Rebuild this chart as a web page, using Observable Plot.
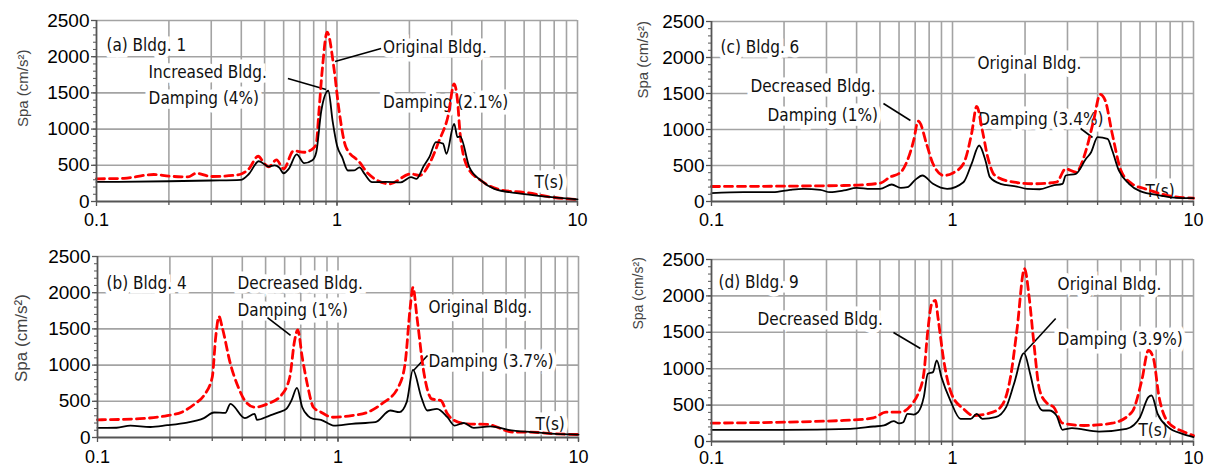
<!DOCTYPE html>
<html><head><meta charset="utf-8">
<script src="https://cdn.jsdelivr.net/npm/d3@7"></script>
<script src="https://cdn.jsdelivr.net/npm/@observablehq/plot@0.6"></script>
<style>
html,body{margin:0;padding:0;background:#fff}
#wrap{position:relative;width:1211px;height:468px;overflow:hidden;background:#fff}
.panel{position:absolute}
.panel svg{overflow:visible}
</style></head><body>
<div id="wrap">
<div id="pa" class="panel" style="left:0;top:0"></div>
<div id="pb" class="panel" style="left:0;top:234px"></div>
<div id="pc" class="panel" style="left:600px;top:0"></div>
<div id="pd" class="panel" style="left:600px;top:234px"></div>
</div>
<script>
// ---- tick values ----
const xTickLabels = [0.1, 1, 10];
const xGridValues = [0.2,0.3,0.4,0.5,0.6,0.7,0.8,0.9,1,2,3,4,5,6,7,8,9,10];
const yTickLabels = [0, 500, 1000, 1500, 2000, 2500];
const yGridValues = [500, 1000, 1500, 2000, 2500];
const yMinorTicks = d3.range(0, 2501, 100);
const yAxisTitle = "Spa (cm/s²)";

// ---- (a) Bldg. 1 : [T (s), Spa (cm/s²)] ----
const bldg1Solid = [[0.1,270],[0.2,280],[0.3,290],[0.398,300],[0.43,380],[0.473,556],[0.52,483],[0.55,500],[0.575,470],[0.60,390],[0.63,450],[0.68,650],[0.73,530],[0.79,570],[0.82,680],[0.86,1250],[0.92,1530],[0.96,1100],[1.0,773],[1.05,612],[1.11,428],[1.18,430],[1.24,470],[1.3,385],[1.40,267],[1.6,270],[1.84,265],[2.03,336],[2.14,313],[2.3,497],[2.42,612],[2.58,820],[2.76,800],[2.85,659],[3.07,1073],[3.17,888],[3.25,900],[3.55,474],[3.97,290],[4.51,175],[5.6,115],[7.8,60],[10,28]];
const bldg1Dashed = [[0.1,313],[0.13,320],[0.173,373],[0.2,350],[0.24,340],[0.26,390],[0.30,345],[0.37,360],[0.4,380],[0.43,450],[0.47,625],[0.50,520],[0.52,478],[0.56,575],[0.60,450],[0.66,700],[0.73,680],[0.80,740],[0.82,800],[0.84,1215],[0.87,1850],[0.91,2340],[0.97,1855],[1.02,1257],[1.09,750],[1.24,543],[1.35,382],[1.65,244],[2.03,382],[2.2,359],[2.42,520],[2.66,842],[2.9,1188],[3.07,1625],[3.17,1395],[3.25,937],[3.49,474],[3.97,290],[4.8,160],[6.2,120],[7.8,60],[10,25]];
const bldg1Notes = [
  {label:"(a) Bldg. 1", T:0.110, V:2085},
  {label:"Increased Bldg.", T:0.1647, V:1712},
  {label:"Damping (4%)", T:0.1647, V:1353},
  {label:"Original Bldg.", T:1.555, V:2058},
  {label:"Damping (2.1%)", T:1.555, V:1298},
  {label:"T(s)", T:6.62, V:180}
];
const bldg1Leaders = [
  {T1:0.625, V1:1699, T2:0.90, V2:1547},
  {T1:1.525, V1:2113, T2:0.981, V2:1933}
];

// ---- (b) Bldg. 4 ----
const bldg4Solid = [[0.1,134],[0.12,135],[0.137,165],[0.166,145],[0.195,170],[0.236,207],[0.26,235],[0.277,267],[0.305,345],[0.34,340],[0.357,465],[0.41,267],[0.45,327],[0.46,244],[0.52,303],[0.57,350],[0.61,396],[0.64,510],[0.675,686],[0.71,418],[0.75,300],[0.79,258],[0.85,244],[0.96,165],[1.14,189],[1.43,212],[1.65,373],[1.8,350],[1.93,488],[2.05,934],[2.22,556],[2.35,373],[2.58,396],[2.85,280],[3.05,165],[3.34,200],[3.67,134],[4.3,155],[5.1,106],[6.4,74],[8,50],[10,41]];
const bldg4Dashed = [[0.1,244],[0.15,260],[0.195,303],[0.224,350],[0.254,465],[0.277,580],[0.30,832],[0.31,1384],[0.32,1670],[0.33,1522],[0.357,1017],[0.385,694],[0.41,510],[0.45,418],[0.51,465],[0.58,580],[0.63,832],[0.66,1338],[0.68,1486],[0.71,1108],[0.75,694],[0.79,418],[0.85,350],[0.95,280],[1.14,303],[1.33,350],[1.52,465],[1.78,694],[1.9,1017],[2.0,1822],[2.05,2074],[2.13,1660],[2.28,879],[2.45,534],[2.68,510],[2.85,327],[3.05,235],[3.44,189],[4.2,180],[5.35,74],[6.3,74],[8,50],[10,41]];
const bldg4Notes = [
  {label:"(b) Bldg. 4", T:0.109, V:2058},
  {label:"Decreased Bldg.", T:0.382, V:2058},
  {label:"Damping (1%)", T:0.382, V:1685},
  {label:"Original Bldg.", T:2.377, V:1726},
  {label:"Damping (3.7%)", T:2.377, V:967},
  {label:"T(s)", T:6.63, V:97}
];
const bldg4Leaders = [
  {T1:0.509, V1:1657, T2:0.635, V2:1409},
  {T1:2.357, V1:1132, T2:2.06, V2:925}
];

// ---- (c) Bldg. 6 ----
const bldg6Solid = [[0.1,115],[0.136,129],[0.18,129],[0.212,162],[0.24,176],[0.283,162],[0.31,129],[0.354,153],[0.4,190],[0.457,176],[0.5,176],[0.56,236],[0.61,190],[0.65,199],[0.70,300],[0.75,361],[0.83,246],[0.95,176],[1.11,268],[1.2,524],[1.29,778],[1.37,570],[1.43,338],[1.58,246],[1.85,208],[2.04,176],[2.3,170],[2.6,222],[2.86,246],[2.95,361],[3.25,385],[3.58,593],[3.76,685],[4.0,894],[4.4,871],[4.6,709],[4.9,431],[5.4,246],[6.0,143],[7.3,83],[8.5,51],[10,46]];
const bldg6Dashed = [[0.1,208],[0.354,222],[0.5,254],[0.55,338],[0.61,408],[0.65,570],[0.69,848],[0.72,1116],[0.73,1102],[0.78,802],[0.83,524],[0.92,361],[1.0,393],[1.11,524],[1.2,941],[1.26,1320],[1.33,987],[1.4,616],[1.5,361],[1.8,268],[2.17,246],[2.7,268],[2.95,454],[3.25,408],[3.58,709],[3.85,1126],[4.1,1487],[4.3,1404],[4.6,941],[5.0,431],[5.55,246],[6.3,176],[7.8,83],[10,46]];
const bldg6Notes = [
  {label:"(c) Bldg. 6", T:0.109, V:2069},
  {label:"Decreased Bldg.", T:0.145, V:1514},
  {label:"Damping (1%)", T:0.1708, V:1125},
  {label:"Original Bldg.", T:1.27, V:1847},
  {label:"Damping (3.4%)", T:1.28, V:1056},
  {label:"T(s)", T:6.32, V:69}
];
const bldg6Leaders = [
  {T1:0.517, V1:1361, T2:0.669, V2:1125},
  {T1:3.40, V1:1014, T2:3.81, V2:889}
];

// ---- (d) Bldg. 9 ----
const bldg9Solid = [[0.1,161],[0.2,160],[0.377,174],[0.47,206],[0.52,220],[0.57,279],[0.6,250],[0.625,265],[0.65,380],[0.69,370],[0.72,403],[0.76,609],[0.79,930],[0.83,953],[0.86,1113],[0.9,884],[0.98,563],[1.08,311],[1.19,311],[1.26,380],[1.33,311],[1.51,334],[1.67,472],[1.8,793],[1.98,1213],[2.1,930],[2.23,563],[2.37,426],[2.52,426],[2.7,357],[2.86,161],[3.13,183],[4.05,137],[5.27,174],[6.0,334],[6.5,609],[6.7,632],[7.1,380],[7.85,197],[9.0,105],[10,60]];
const bldg9Dashed = [[0.1,252],[0.354,289],[0.47,325],[0.53,403],[0.61,403],[0.68,518],[0.72,655],[0.76,930],[0.79,1525],[0.82,1892],[0.85,1937],[0.87,1708],[0.92,1113],[0.99,655],[1.11,449],[1.22,357],[1.47,403],[1.62,518],[1.74,884],[1.85,1525],[1.99,2373],[2.08,1983],[2.17,1388],[2.3,701],[2.48,518],[2.63,472],[2.86,252],[3.52,220],[4.6,252],[5.55,403],[6.1,838],[6.5,1250],[6.8,1158],[7.2,609],[7.85,265],[9.2,128],[10,80]];
const bldg9Notes = [
  {label:"(d) Bldg. 9", T:0.107, V:2102},
  {label:"Decreased Bldg.", T:0.1552, V:1594},
  {label:"Original Bldg.", T:2.73, V:2075},
  {label:"Damping (3.9%)", T:2.73, V:1319},
  {label:"T(s)", T:5.91, V:82}
];
const bldg9Leaders = [
  {T1:0.569, V1:1498, T2:0.736, V2:1278},
  {T1:2.68, V1:1690, T2:1.99, V2:1223}
];

// ---- drawing ----
const tickFont = "'Liberation Sans', Arial, Helvetica, sans-serif";
const noteFont = "'Liberation Sans Narrow', 'Arial Narrow', 'DejaVu Sans Condensed', sans-serif";
const axisColor = "#555";
const gridColor = "#a3a3a3";

function panel(solid, dashed, notes, leaders, L) {
  const pt = d => d[0], pv = d => d[1];
  return Plot.plot({
    width: L.w, height: L.h,
    marginLeft: L.ml, marginRight: L.mr, marginTop: L.mt, marginBottom: L.mb,
    x: {type: "log", domain: [0.1, 10]},
    y: {domain: [0, 2500]},
    style: {fontFamily: tickFont, background: "white", color: "black", overflow: "visible"},
    marks: [
      Plot.gridX(xGridValues, {stroke: gridColor, strokeOpacity: 1, strokeWidth: 1.6}),
      Plot.gridY(yGridValues, {stroke: gridColor, strokeOpacity: 1, strokeWidth: 1.6}),
      Plot.text(notes, {x: "T", y: "V", text: "label", textAnchor: "start", lineAnchor: "bottom",
        fontSize: 17, fontFamily: noteFont, fill: "#111", stroke: "white", strokeWidth: 9,
        paintOrder: "stroke", strokeLinejoin: "miter"}),
      Plot.link(leaders, {x1: "T1", y1: "V1", x2: "T2", y2: "V2", stroke: "black", strokeWidth: 1.6}),
      Plot.line(dashed, {x: pt, y: pv, stroke: "#ff0000", strokeWidth: 2.8, strokeDasharray: "8,5", curve: "monotone-x"}),
      Plot.line(solid, {x: pt, y: pv, stroke: "black", strokeWidth: 1.8, curve: "monotone-x"}),
      Plot.axisX(xGridValues, {tickSize: 4, tickFormat: () => "", label: null, stroke: axisColor, strokeWidth: 1.3}),
      Plot.axisX(xTickLabels, {tickSize: 5, tickPadding: L.xpad, fontSize: 18, fill: "black", tickFormat: d => String(d), label: null, stroke: axisColor, strokeWidth: 1.3}),
      Plot.axisY(yMinorTicks, {tickSize: 3, tickFormat: () => "", label: null, stroke: axisColor, strokeWidth: 1}),
      Plot.axisY(yTickLabels, {tickSize: 5, tickPadding: 2, fontSize: 19, fill: "black", tickFormat: d => String(d), label: null, stroke: axisColor, strokeWidth: 1.3}),
      Plot.ruleX([0.1], {stroke: axisColor, strokeWidth: 1.8}),
      Plot.ruleY([0], {stroke: axisColor, strokeWidth: 1.8}),
      Plot.text([yAxisTitle], {frameAnchor: "left", rotate: -90, dx: L.ldx, dy: L.ldy,
        fontSize: L.lfs, fill: "#444", fontFamily: tickFont})
    ]
  });
}

const layoutA = {w: 600, h: 234, ml: 96, mr: 23, mt: 20, mb: 33, xpad: 7, ldx: -73, ldy: 16, lfs: 15};
const layoutB = {w: 600, h: 234, ml: 97, mr: 22, mt: 22, mb: 31, xpad: 8, ldx: -76, ldy: 35, lfs: 17};
const layoutC = {w: 611, h: 234, ml: 111, mr: 18, mt: 21, mb: 33, xpad: 7, ldx: -68, ldy: -13, lfs: 15};
const layoutD = {w: 611, h: 234, ml: 111, mr: 18, mt: 25, mb: 27, xpad: 5, ldx: -73, ldy: -21, lfs: 14};

document.getElementById("pa").append(panel(bldg1Solid, bldg1Dashed, bldg1Notes, bldg1Leaders, layoutA));
document.getElementById("pb").append(panel(bldg4Solid, bldg4Dashed, bldg4Notes, bldg4Leaders, layoutB));
document.getElementById("pc").append(panel(bldg6Solid, bldg6Dashed, bldg6Notes, bldg6Leaders, layoutC));
document.getElementById("pd").append(panel(bldg9Solid, bldg9Dashed, bldg9Notes, bldg9Leaders, layoutD));
</script>
</body></html>
